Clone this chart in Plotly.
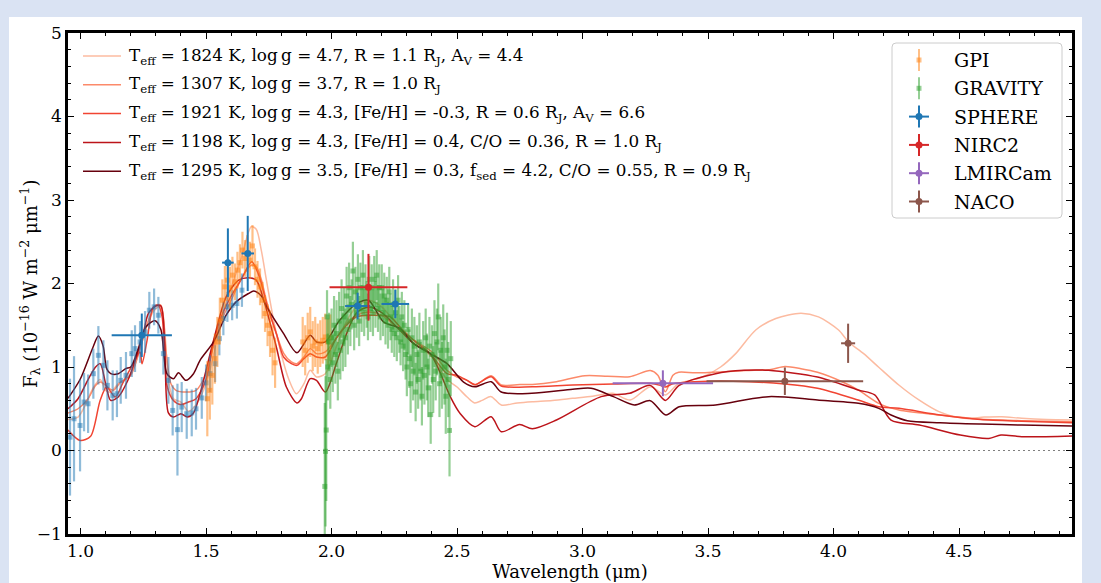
import plotly.graph_objects as go

# ---------------- model spectra ----------------
m1_x = [0.95, 0.99, 1.02, 1.05, 1.078, 1.10, 1.12, 1.15, 1.18, 1.21, 1.24, 1.27, 1.30, 1.32, 1.335, 1.35, 1.37, 1.40, 1.43, 1.46,
        1.50, 1.53, 1.56, 1.60, 1.64, 1.68, 1.70, 1.72, 1.74, 1.77, 1.80, 1.83, 1.86, 1.89, 1.915, 1.94, 1.975, 2.02, 2.06, 2.10,
        2.15, 2.20, 2.25, 2.30, 2.35, 2.40, 2.46, 2.50, 2.54, 2.57, 2.60, 2.636, 2.676, 2.74, 2.80, 2.88, 2.96, 3.04, 3.12, 3.19,
        3.27, 3.33, 3.38, 3.43, 3.48, 3.55, 3.61, 3.69, 3.77, 3.87, 3.94, 4.02, 4.06, 4.12, 4.18, 4.26, 4.34, 4.42, 4.52, 4.60,
        4.67, 4.75, 4.85, 4.95]
m1_y = [0.37, 0.40, 0.55, 0.75, 0.85, 0.72, 0.70, 0.80, 0.85, 0.98, 1.25, 1.55, 1.70, 1.72, 1.45, 0.85, 0.62, 0.58, 0.47, 0.55,
        0.80, 1.15, 1.55, 1.95, 2.30, 2.68, 2.65, 2.40, 2.05, 1.55, 1.15, 0.85, 0.68, 0.80, 0.96, 0.88, 0.92, 1.25, 1.55, 1.72,
        1.80, 1.72, 1.55, 1.40, 1.25, 1.12, 0.85, 0.76, 0.64, 0.57, 0.60, 0.645, 0.545, 0.57, 0.585, 0.60, 0.625, 0.65, 0.685, 0.605,
        0.764, 0.665, 0.796, 0.84, 0.884, 1.0, 1.16, 1.443, 1.58, 1.643, 1.60, 1.443, 1.30, 1.16, 0.997, 0.784, 0.605, 0.465, 0.385, 0.40,
        0.405, 0.385, 0.37, 0.365]

m2_x = [0.95, 0.99, 1.03, 1.06, 1.08, 1.10, 1.13, 1.16, 1.20, 1.24, 1.27, 1.30, 1.32, 1.34, 1.36, 1.38, 1.42, 1.46, 1.50, 1.53,
        1.56, 1.60, 1.64, 1.68, 1.70, 1.72, 1.74, 1.78, 1.81, 1.84, 1.862, 1.89, 1.915, 1.94, 1.975, 2.02, 2.06, 2.10, 2.15, 2.20,
        2.25, 2.30, 2.35, 2.40, 2.46, 2.50, 2.54, 2.571, 2.636, 2.676, 2.75, 2.80, 2.896, 3.009, 3.10, 3.188, 3.27, 3.30, 3.33, 3.36,
        3.383, 3.45, 3.55, 3.65, 3.75, 3.806, 3.87, 3.936, 4.034, 4.098, 4.18, 4.261, 4.424, 4.586, 4.749, 4.95]
m2_y = [0.45, 0.50, 0.62, 0.78, 0.82, 0.78, 0.72, 0.82, 0.90, 1.25, 1.55, 1.74, 1.74, 1.2, 0.8, 0.72, 0.70, 0.72, 0.92, 1.25,
        1.55, 1.80, 2.05, 2.22, 2.2, 2.05, 1.80, 1.40, 1.16, 1.06, 1.04, 1.12, 1.22, 1.16, 1.18, 1.35, 1.52, 1.62, 1.66, 1.62,
        1.5, 1.38, 1.28, 1.18, 0.96, 0.88, 0.84, 0.784, 0.896, 0.784, 0.79, 0.79, 0.824, 0.896, 0.89, 0.884, 0.957, 0.90, 0.705, 0.90,
        0.937, 0.93, 0.94, 0.957, 0.97, 1.005, 0.98, 0.937, 0.824, 0.725, 0.565, 0.485, 0.425, 0.373, 0.357, 0.345]

m3_x = [0.95, 0.998, 1.04, 1.078, 1.104, 1.138, 1.17, 1.21, 1.237, 1.245, 1.265, 1.29, 1.31, 1.325, 1.345, 1.37, 1.40, 1.43, 1.46, 1.50,
        1.53, 1.56, 1.60, 1.64, 1.682, 1.71, 1.742, 1.78, 1.809, 1.84, 1.862, 1.89, 1.915, 1.94, 1.975, 2.02, 2.06, 2.10, 2.15, 2.234,
        2.28, 2.327, 2.393, 2.46, 2.50, 2.54, 2.571, 2.636, 2.676, 2.80, 2.961, 3.123, 3.27, 3.31, 3.33, 3.36, 3.448, 3.60, 3.806, 3.936,
        4.098, 4.18, 4.261, 4.424, 4.586, 4.749, 4.95]
m3_y = [0.245, 0.12, 0.17, 0.60, 0.76, 0.64, 0.82, 1.04, 1.18, 1.04, 1.32, 1.72, 1.74, 1.60, 0.77, 0.60, 0.55, 0.58, 0.62, 0.85,
        1.30, 1.60, 1.85, 2.05, 2.26, 2.10, 1.75, 1.40, 1.12, 1.04, 1.02, 1.10, 1.16, 1.12, 1.12, 1.35, 1.50, 1.60, 1.62, 1.60,
        1.45, 1.32, 1.16, 0.92, 0.90, 0.84, 0.79, 0.884, 0.772, 0.764, 0.784, 0.796, 0.804, 0.78, 0.76, 0.80, 0.824, 0.83, 0.796, 0.745,
        0.605, 0.525, 0.505, 0.425, 0.37, 0.35, 0.333]

m4_x = [0.95, 0.99, 1.03, 1.06, 1.078, 1.10, 1.12, 1.15, 1.19, 1.22, 1.25, 1.27, 1.30, 1.32, 1.335, 1.35, 1.37, 1.40, 1.425, 1.45,
        1.476, 1.53, 1.58, 1.63, 1.669, 1.70, 1.73, 1.78, 1.82, 1.862, 1.88, 1.915, 1.94, 1.975, 2.02, 2.06, 2.10, 2.15, 2.20, 2.26,
        2.327, 2.393, 2.43, 2.473, 2.513, 2.571, 2.636, 2.676, 2.749, 2.80, 2.896, 3.074, 3.188, 3.27, 3.33, 3.385, 3.53, 3.643, 3.741, 3.936,
        4.098, 4.164, 4.229, 4.342, 4.505, 4.619, 4.667, 4.75, 4.95]
m4_y = [0.50, 0.62, 0.85, 1.0, 1.04, 0.80, 0.60, 0.64, 0.85, 1.10, 1.40, 1.64, 1.73, 1.73, 1.30, 0.45, 0.40, 0.44, 0.40, 0.45,
        0.68, 1.32, 1.84, 2.04, 2.07, 2.04, 1.80, 1.24, 0.76, 0.57, 0.62, 0.86, 0.84, 0.70, 1.05, 1.40, 1.65, 1.72, 1.65, 1.48,
        1.28, 1.16, 0.95, 0.645, 0.44, 0.285, 0.405, 0.225, 0.31, 0.26, 0.365, 0.645, 0.685, 0.78, 0.60, 0.78, 0.92, 0.96, 0.96, 0.88,
        0.725, 0.665, 0.365, 0.305, 0.185, 0.145, 0.185, 0.165, 0.175]

m5_x = [0.95, 0.998, 1.05, 1.071, 1.09, 1.104, 1.12, 1.15, 1.18, 1.20, 1.23, 1.26, 1.297, 1.32, 1.344, 1.37, 1.39, 1.42, 1.45, 1.476,
        1.53, 1.58, 1.62, 1.669, 1.69, 1.72, 1.742, 1.809, 1.862, 1.915, 1.94, 1.975, 2.03, 2.10, 2.147, 2.207, 2.273, 2.327, 2.393, 2.46,
        2.526, 2.571, 2.636, 2.676, 2.798, 2.961, 3.034, 3.123, 3.206, 3.27, 3.332, 3.385, 3.53, 3.741, 3.936, 4.099, 4.18, 4.229, 4.294, 4.424,
        4.587, 4.749, 4.95]
m5_y = [0.625, 0.85, 1.24, 1.37, 1.25, 0.98, 0.92, 0.92, 0.98, 1.0, 1.22, 1.48, 1.555, 1.45, 0.92, 0.86, 0.93, 0.84, 0.92, 1.08,
        1.30, 1.62, 1.78, 1.88, 1.91, 1.85, 1.72, 1.40, 1.17, 1.38, 1.30, 1.30, 1.55, 1.76, 1.80, 1.54, 1.46, 1.28, 1.16, 1.04,
        0.82, 0.764, 0.824, 0.70, 0.685, 0.733, 0.745, 0.645, 0.545, 0.597, 0.425, 0.525, 0.545, 0.645, 0.605, 0.565, 0.505, 0.425, 0.357, 0.333,
        0.317, 0.305, 0.293]

model_labels = [
    "T<sub>eff</sub> = 1824 K, log\u2009g = 4.7, R = 1.1 R<sub>J</sub>, A<sub>V</sub> = 4.4",
    "T<sub>eff</sub> = 1307 K, log\u2009g = 3.7, R = 1.0 R<sub>J</sub>",
    "T<sub>eff</sub> = 1921 K, log\u2009g = 4.3, [Fe/H] = -0.3, R = 0.6 R<sub>J</sub>, A<sub>V</sub> = 6.6",
    "T<sub>eff</sub> = 1198 K, log\u2009g = 4.3, [Fe/H] = 0.4, C/O = 0.36, R = 1.0 R<sub>J</sub>",
    "T<sub>eff</sub> = 1295 K, log\u2009g = 3.5, [Fe/H] = 0.3, f<sub>sed</sub> = 4.2, C/O = 0.55, R = 0.9 R<sub>J</sub>",
]

# ---------------- spectra ----------------
sphere_x = [0.958, 0.974, 0.998, 1.014, 1.030, 1.051, 1.071, 1.091, 1.107, 1.128, 1.145, 1.160, 1.181, 1.204, 1.217, 1.237, 1.257, 1.274, 1.293,
            1.310, 1.330, 1.350, 1.367, 1.386, 1.403, 1.423, 1.443, 1.460, 1.483, 1.500, 1.516, 1.536, 1.553, 1.569, 1.585, 1.604, 1.623, 1.643]
sphere_y = [0.16, 0.38, 0.30, 0.58, 0.56, 0.92, 1.14, 1.02, 0.78, 0.66, 0.68, 0.84, 0.90, 1.16, 1.22, 1.30, 1.42, 1.68, 1.72,
            1.62, 1.16, 0.84, 0.48, 0.25, 0.52, 0.44, 0.45, 0.50, 0.63, 0.81, 0.92, 1.04, 1.34, 1.58, 1.72, 1.74, 1.76, 1.92]
sphere_err = [0.7, 0.75, 0.55, 0.35, 0.35, 0.30, 0.35, 0.30, 0.30, 0.30, 0.28, 0.28, 0.28, 0.28, 0.28, 0.25, 0.25, 0.22, 0.22,
              0.22, 0.25, 0.28, 0.30, 0.55, 0.30, 0.30, 0.28, 0.25, 0.25, 0.22, 0.22, 0.22, 0.20, 0.20, 0.18, 0.18, 0.18, 0.20]

gpi_x = [1.505, 1.515, 1.525, 1.535, 1.545, 1.555, 1.565, 1.575, 1.585, 1.595, 1.605, 1.615, 1.625, 1.635, 1.645, 1.655, 1.665, 1.675,
         1.685, 1.695, 1.705, 1.715, 1.725, 1.735, 1.745, 1.755, 1.765, 1.775,
         1.885, 1.895, 1.905, 1.915, 1.925, 1.935, 1.945, 1.955, 1.965, 1.975, 1.985, 1.995]
gpi_y = [0.62, 0.72, 0.90, 1.10, 1.30, 1.55, 1.80, 1.96, 2.04, 1.95, 2.10, 2.02, 2.16, 2.25, 2.40, 2.30, 2.36, 2.28,
         2.45, 2.20, 2.05, 1.96, 1.80, 1.64, 1.50, 1.40, 1.20, 1.05,
         1.30, 1.20, 1.35, 1.42, 1.25, 1.30, 1.22, 1.28, 1.32, 1.36, 1.30, 1.35]
gpi_err = [0.45, 0.35, 0.35, 0.30, 0.30, 0.28, 0.25, 0.25, 0.25, 0.25, 0.22, 0.22, 0.22, 0.22, 0.22, 0.22, 0.22, 0.22,
           0.25, 0.22, 0.22, 0.22, 0.22, 0.22, 0.25, 0.28, 0.30, 0.30,
           0.30, 0.30, 0.30, 0.30, 0.30, 0.30, 0.30, 0.28, 0.28, 0.28, 0.28, 0.28]

gravity_x = [1.973, 1.976, 1.979, 1.982,
             1.985, 1.990, 1.995, 2.000, 2.005, 2.010, 2.015, 2.020, 2.025, 2.030,
             2.035, 2.040, 2.045, 2.050, 2.055, 2.060, 2.065, 2.070, 2.075, 2.080,
             2.085, 2.090, 2.095, 2.100, 2.105, 2.110, 2.115, 2.120, 2.125, 2.130,
             2.135, 2.140, 2.145, 2.150, 2.155, 2.160, 2.165, 2.170, 2.175, 2.180,
             2.185, 2.190, 2.195, 2.200, 2.205, 2.210, 2.215, 2.220, 2.225, 2.230,
             2.235, 2.240, 2.245, 2.250, 2.255, 2.260, 2.265, 2.270, 2.275, 2.280,
             2.285, 2.290, 2.295, 2.300, 2.305, 2.310, 2.315, 2.320, 2.325, 2.330,
             2.335, 2.340, 2.345, 2.350, 2.355, 2.360, 2.365, 2.370, 2.375, 2.380,
             2.385, 2.390, 2.395, 2.400, 2.405, 2.410, 2.415, 2.420, 2.425, 2.430,
             2.435, 2.440, 2.445, 2.450, 2.455, 2.460, 2.465, 2.470, 2.475]
gravity_y = [-0.43, -0.01, 0.245, 1.60,
             1.00, 1.30, 0.85, 1.35, 1.05, 1.50, 1.15, 1.40, 0.95, 1.55,
             1.20, 1.70, 1.30, 1.60, 1.35, 1.85, 1.45, 1.95, 1.55, 1.75,
             2.15, 1.50, 1.90, 1.65, 2.05, 1.55, 1.95, 1.70, 2.10, 1.65,
             1.95, 1.75, 1.60, 2.05, 1.70, 1.95, 1.65, 2.05, 1.75, 2.10,
             1.70, 1.95, 1.60, 1.95, 1.65, 1.85, 1.55, 1.80, 1.50, 1.90,
             1.60, 1.45, 1.75, 1.40, 1.65, 1.35, 1.80, 1.45, 1.30, 1.60,
             1.25, 1.50, 1.15, 1.00, 1.45, 1.10, 0.80, 1.35, 0.95, 1.25,
             0.70, 1.15, 0.85, 1.30, 0.95, 0.65, 1.20, 0.90, 1.35, 1.00,
             0.75, 1.25, 0.43, 1.15, 0.85, 1.40, 0.95, 1.30, 1.60, 0.80,
             1.20, 0.90, 1.35, 1.00, 0.65, 1.20, 0.85, 0.24, 1.10]
gravity_err = [1.0, 0.9, 0.85, 0.32,
               0.40, 0.35, 0.35, 0.35, 0.35, 0.35, 0.35, 0.40, 0.35, 0.35,
               0.35, 0.35, 0.35, 0.35, 0.35, 0.35, 0.30, 0.30, 0.30, 0.30,
               0.35, 0.30, 0.30, 0.30, 0.30, 0.30, 0.30, 0.28, 0.30, 0.28,
               0.28, 0.28, 0.28, 0.28, 0.28, 0.28, 0.28, 0.28, 0.28, 0.30,
               0.28, 0.28, 0.28, 0.28, 0.28, 0.28, 0.28, 0.28, 0.28, 0.30,
               0.28, 0.28, 0.30, 0.28, 0.28, 0.28, 0.30, 0.28, 0.28, 0.30,
               0.30, 0.30, 0.30, 0.35, 0.30, 0.35, 0.35, 0.35, 0.35, 0.35,
               0.35, 0.35, 0.35, 0.35, 0.35, 0.35, 0.35, 0.35, 0.35, 0.40,
               0.35, 0.35, 0.35, 0.35, 0.40, 0.40, 0.35, 0.40, 0.40, 0.40,
               0.40, 0.40, 0.40, 0.45, 0.45, 0.45, 0.45, 0.55, 0.45]

# ---------------- photometry ----------------
sphere_phot_x = [1.244, 1.587, 1.666, 2.104, 2.254]
sphere_phot_y = [1.38, 2.25, 2.36, 1.73, 1.755]
sphere_phot_xerr = [0.12, 0.023, 0.025, 0.05, 0.055]
sphere_phot_yerr = [0.26, 0.41, 0.45, 0.16, 0.17]

nirc2_x = [2.147]
nirc2_y = [1.955]
nirc2_xerr = [0.155]
nirc2_yerr = [0.40]

lmircam_x = [3.32]
lmircam_y = [0.805]
lmircam_xerr = [0.20]
lmircam_yerr = [0.155]

naco_x = [3.806, 4.058]
naco_y = [0.83, 1.284]
naco_xerr = [0.312, 0.028]
naco_yerr = [0.165, 0.235]

instrument_labels = ["GPI", "GRAVITY", "SPHERE", "NIRC2", "LMIRCam", "NACO"]

x_tick_vals = [1.0, 1.5, 2.0, 2.5, 3.0, 3.5, 4.0, 4.5]
x_tick_text = ["1.0", "1.5", "2.0", "2.5", "3.0", "3.5", "4.0", "4.5"]

# ---------------- styling ----------------
FONT = "DejaVu Serif, Liberation Serif, Noto Serif, serif"
model_colors = ["#fcbba1", "#fc8a6a", "#f14432", "#bc141a", "#67000d"]
inst_colors = ["rgba(255,127,14,0.5)", "rgba(44,160,44,0.5)", "#1f77b4", "#d62728", "#9467bd", "#8c564b"]
sphere_spec_color = "rgba(31,119,180,0.5)"
PAGE_BG = "#dae3f3"

W, H = 1101, 583
L, R, T, B = 68, 1072, 33, 534


def px(x):
    return (x - L) / (R - L)


def py(y):
    return (B - y) / (B - T)


fig = go.Figure()

models = [(m1_x, m1_y), (m2_x, m2_y), (m3_x, m3_y), (m4_x, m4_y), (m5_x, m5_y)]
for (mx, my), c, lab in zip(models, model_colors, model_labels):
    fig.add_trace(go.Scatter(x=mx, y=my, mode="lines", name=lab,
                             line=dict(color=c, width=1.5, shape="spline", smoothing=0.8),
                             showlegend=False, hoverinfo="skip"))


def spec_trace(x, y, err, color, name):
    return go.Scatter(x=x, y=y, mode="markers", name=name,
                      marker=dict(symbol="square", size=5, color=color, line=dict(width=0)),
                      error_y=dict(type="data", array=err, color=color, thickness=2.2, width=0),
                      showlegend=False)


fig.add_trace(spec_trace(sphere_x, sphere_y, sphere_err, sphere_spec_color, "SPHERE spectrum"))
fig.add_trace(spec_trace(gpi_x, gpi_y, gpi_err, inst_colors[0], "GPI"))
fig.add_trace(spec_trace(gravity_x, gravity_y, gravity_err, inst_colors[1], "GRAVITY"))


def phot_trace(x, y, xe, ye, color, name):
    return go.Scatter(x=x, y=y, mode="markers", name=name,
                      marker=dict(symbol="circle", size=7, color=color, line=dict(width=0)),
                      error_x=dict(type="data", array=xe, color=color, thickness=2, width=0),
                      error_y=dict(type="data", array=ye, color=color, thickness=2, width=0),
                      showlegend=False)


fig.add_trace(phot_trace(sphere_phot_x, sphere_phot_y, sphere_phot_xerr, sphere_phot_yerr, inst_colors[2], "SPHERE"))
fig.add_trace(phot_trace(nirc2_x, nirc2_y, nirc2_xerr, nirc2_yerr, inst_colors[3], "NIRC2"))
fig.add_trace(phot_trace(lmircam_x, lmircam_y, lmircam_xerr, lmircam_yerr, inst_colors[4], "LMIRCam"))
fig.add_trace(phot_trace(naco_x, naco_y, naco_xerr, naco_yerr, inst_colors[5], "NACO"))

shapes = []
annotations = []

# white panel behind the figure
shapes.append(dict(type="rect", xref="paper", yref="paper", x0=px(9), x1=px(1082), y0=py(600), y1=py(17),
                   fillcolor="white", line=dict(width=0), layer="below"))
# zero line
shapes.append(dict(type="line", xref="paper", yref="y", x0=0, x1=1, y0=0, y1=0,
                   line=dict(color="#7f7f7f", width=1, dash="2px,3px"), layer="below"))

# legend 1 (models)
rows1 = [56, 84.8, 113.6, 142.4, 171.2]
for yy, c, lab in zip(rows1, model_colors, model_labels):
    shapes.append(dict(type="line", xref="paper", yref="paper", x0=px(83), x1=px(121), y0=py(yy), y1=py(yy),
                       line=dict(color=c, width=1.5)))
    annotations.append(dict(xref="paper", yref="paper", x=px(127), y=py(yy), xanchor="left", yanchor="middle",
                            text=lab, showarrow=False, font=dict(family=FONT, size=16.8, color="black")))

# legend 2 (instruments)
bx0, bx1, by0, by1, rr = px(892), px(1062), py(218), py(43), 4
rx, ry = rr / (R - L), rr / (B - T)
path = (f"M {bx0+rx},{by1} L {bx1-rx},{by1} Q {bx1},{by1} {bx1},{by1-ry} L {bx1},{by0+ry} "
        f"Q {bx1},{by0} {bx1-rx},{by0} L {bx0+rx},{by0} Q {bx0},{by0} {bx0},{by0+ry} L {bx0},{by1-ry} "
        f"Q {bx0},{by1} {bx0+rx},{by1} Z")
shapes.append(dict(type="path", xref="paper", yref="paper", path=path,
                   fillcolor="rgba(255,255,255,0.8)", line=dict(color="#cccccc", width=1), layer="above"))
rows2 = [60, 88.3, 116.6, 144.9, 173.2, 201.5]
icx = 919
for i, (yy, c, lab) in enumerate(zip(rows2, inst_colors, instrument_labels)):
    shapes.append(dict(type="line", xref="paper", yref="paper", x0=px(icx), x1=px(icx), y0=py(yy - 11), y1=py(yy + 11),
                       line=dict(color=c, width=2), layer="above"))
    if i < 2:
        shapes.append(dict(type="rect", xref="paper", yref="paper", x0=px(icx - 2.5), x1=px(icx + 2.5),
                           y0=py(yy + 2.5), y1=py(yy - 2.5), fillcolor=c, line=dict(width=0), layer="above"))
    else:
        shapes.append(dict(type="line", xref="paper", yref="paper", x0=px(icx - 10), x1=px(icx + 10), y0=py(yy), y1=py(yy),
                           line=dict(color=c, width=2), layer="above"))
        shapes.append(dict(type="circle", xref="paper", yref="paper", x0=px(icx - 3.5), x1=px(icx + 3.5),
                           y0=py(yy + 3.5), y1=py(yy - 3.5), fillcolor=c, line=dict(width=0), layer="above"))
    annotations.append(dict(xref="paper", yref="paper", x=px(952), y=py(yy), xanchor="left", yanchor="middle",
                            text=lab, showarrow=False, font=dict(family=FONT, size=19, color="black")))

# y-axis title
annotations.append(dict(xref="paper", yref="paper", x=px(30), y=py(284), xanchor="center", yanchor="middle",
                        textangle=-90, showarrow=False,
                        text="F<sub>λ</sub> (10<sup>−16</sup> W m<sup>−2</sup> μm<sup>−1</sup>)",
                        font=dict(family=FONT, size=18, color="black")))

axis_common = dict(showline=True, linewidth=2.5, linecolor="black", mirror="ticks", ticks="inside",
                   ticklen=6, tickwidth=1.3, tickcolor="black", showgrid=False, zeroline=False,
                   automargin=False, tickfont=dict(family=FONT, size=17, color="black"))

fig.update_layout(
    width=W, height=H,
    margin=dict(l=L, r=W - R, t=T, b=H - B, pad=0, autoexpand=False),
    paper_bgcolor=PAGE_BG, plot_bgcolor="white",
    showlegend=False,
    shapes=shapes, annotations=annotations,
    font=dict(family=FONT, color="black"),
    xaxis=dict(range=[0.95, 4.95], tickmode="array", tickvals=x_tick_vals, ticktext=x_tick_text,
               minor=dict(ticks="inside", ticklen=3, tickwidth=1.1, tickcolor="black", dtick=0.1, tick0=0, showgrid=False),
               title=dict(text="Wavelength (μm)", font=dict(family=FONT, size=18), standoff=4),
               **axis_common),
    yaxis=dict(range=[-1, 5], tickmode="linear", dtick=1, tick0=0,
               minor=dict(ticks="inside", ticklen=3, tickwidth=1.1, tickcolor="black", dtick=0.2, tick0=0, showgrid=False),
               **axis_common),
)

fig.write_html("out.html", config={"displayModeBar": False},
               post_script=f"document.body.style.margin='0';document.body.style.background='{PAGE_BG}';")
